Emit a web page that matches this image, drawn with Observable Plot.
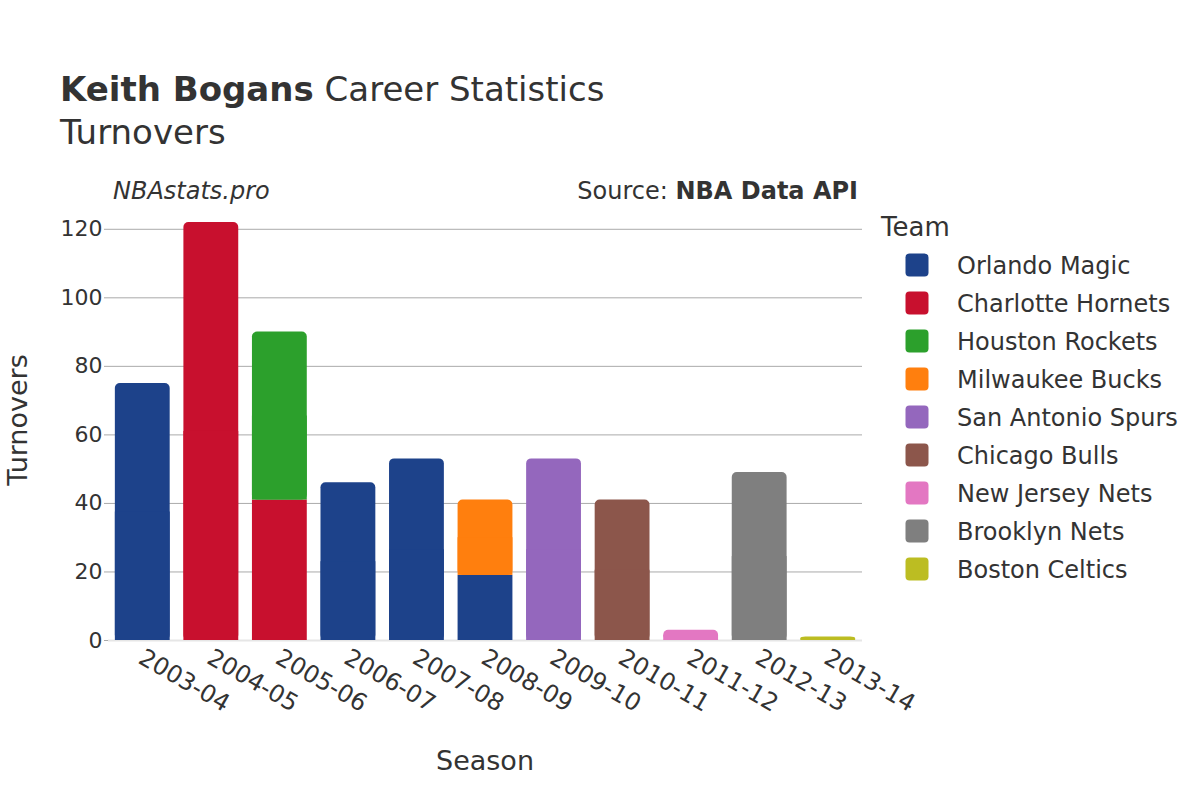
<!DOCTYPE html>
<html><head><meta charset="utf-8">
<script src="https://cdn.jsdelivr.net/npm/d3@7"></script>
<script src="https://cdn.jsdelivr.net/npm/@observablehq/plot@0.6"></script>
<style>
body{margin:0;background:#fff;font-family:"DejaVu Sans",sans-serif;}
#wrap{position:relative;width:1200px;height:800px;overflow:hidden;background:#fff}
#chart{position:absolute;left:0;top:0}
#overlay{position:absolute;left:0;top:0;pointer-events:none}
#overlay text{font-family:"DejaVu Sans",sans-serif;fill:#333}
</style></head><body>
<div id="wrap"><div id="chart"></div><svg id="overlay" width="1200" height="800"></svg></div>
<script>
const seasons = ["2003-04","2004-05","2005-06","2006-07","2007-08","2008-09","2009-10","2010-11","2011-12","2012-13","2013-14"];
const teams = ["Orlando Magic","Charlotte Hornets","Houston Rockets","Milwaukee Bucks","San Antonio Spurs","Chicago Bulls","New Jersey Nets","Brooklyn Nets","Boston Celtics"];
const teamColors = ["#1d428a","#c8102e","#2ca02c","#ff7f0e","#9467bd","#8c564b","#e377c2","#7f7f7f","#bcbd22"];
const statSeason = ["2003-04","2004-05","2005-06","2005-06","2006-07","2007-08","2008-09","2008-09","2009-10","2010-11","2011-12","2012-13","2013-14"];
const statTeam = ["Orlando Magic","Charlotte Hornets","Charlotte Hornets","Houston Rockets","Orlando Magic","Orlando Magic","Orlando Magic","Milwaukee Bucks","San Antonio Spurs","Chicago Bulls","New Jersey Nets","Brooklyn Nets","Boston Celtics"];
const statTurnovers = [75,122,41,49,46,53,19,22,53,41,3,49,1];
const yTicks = [0,20,40,60,80,100,120];

// stack per season
const cum = {};
const rows = statSeason.map((s, i) => {
  const y1 = cum[s] || 0;
  const y2 = y1 + statTurnovers[i];
  cum[s] = y2;
  return {season: s, team: statTeam[i], value: statTurnovers[i], y1, y2};
});
rows.forEach((r, i) => { r.top = !rows.slice(i + 1).some(o => o.season === r.season); });
const topRows = rows.filter(d => d.top);
const lowerRows = rows.filter(d => !d.top);
// flat lower halves of the top segments so only their top corners look rounded
const topFlat = topRows.map(d => ({...d, y2: (d.y1 + d.y2) / 2}));

const chart = Plot.plot({
  width: 870, height: 800,
  marginTop: 200, marginBottom: 160, marginLeft: 108, marginRight: 8,
  x: {domain: seasons, paddingInner: 0.2, paddingOuter: 0.1, round: false, label: null},
  y: {domain: [0, 128.4], label: null},
  color: {domain: teams, range: teamColors},
  style: {fontFamily: "DejaVu Sans", fontSize: "22px", color: "#333", background: "transparent", overflow: "visible"},
  marks: [
    Plot.gridY(yTicks.filter(d => d > 0), {stroke: "#aaa", strokeOpacity: 1, strokeWidth: 1}),
    Plot.ruleY([0], {stroke: "#e6e6e6", strokeWidth: 2}),
    Plot.barY(lowerRows, {x: "season", y1: "y1", y2: "y2", fill: "team", inset: 0}),
    Plot.barY(topRows, {x: "season", y1: "y1", y2: "y2", fill: "team", inset: 0, rx: 5}),
    Plot.barY(topFlat, {x: "season", y1: "y1", y2: "y2", fill: "team", inset: 0}),
    Plot.axisY({ticks: yTicks, tickSize: 4, tickPadding: 2, stroke: "#aaa", fontSize: 22, label: null}),
    Plot.axisX({tickRotate: 30, tickSize: 0, tickPadding: 15, dx: -2, fontSize: 24, label: null})
  ]
});
document.getElementById("chart").appendChild(chart);

// overlay texts and legend
const ov = d3.select("#overlay");
const t1 = ov.append("text").attr("x", 60).attr("y", 101).attr("font-size", 34);
t1.append("tspan").attr("font-weight", "bold").text("Keith Bogans");
t1.append("tspan").text(" Career Statistics");
ov.append("text").attr("x", 60).attr("y", 144).attr("font-size", 34).text("Turnovers");
ov.append("text").attr("x", 113).attr("y", 199).attr("font-size", 24).attr("font-style", "italic").text("NBAstats.pro");
const src = ov.append("text").attr("x", 858).attr("y", 199).attr("font-size", 24).attr("text-anchor", "end");
src.append("tspan").text("Source: ");
src.append("tspan").attr("font-weight", "bold").text("NBA Data API");
ov.append("text").attr("transform", "translate(27,420) rotate(-90)").attr("text-anchor", "middle").attr("font-size", 27).text("Turnovers");
ov.append("text").attr("x", 485).attr("y", 770).attr("text-anchor", "middle").attr("font-size", 27).text("Season");
ov.append("text").attr("x", 881).attr("y", 236).attr("font-size", 26).text("Team");
teams.forEach((t, i) => {
  const cy = 265 + i * 38;
  ov.append("rect").attr("x", 905.5).attr("y", cy - 11.5).attr("width", 23).attr("height", 23).attr("rx", 4).attr("fill", teamColors[i]);
  ov.append("text").attr("x", 957).attr("y", cy + 9).attr("font-size", 24).text(t);
});
</script>
</body></html>
